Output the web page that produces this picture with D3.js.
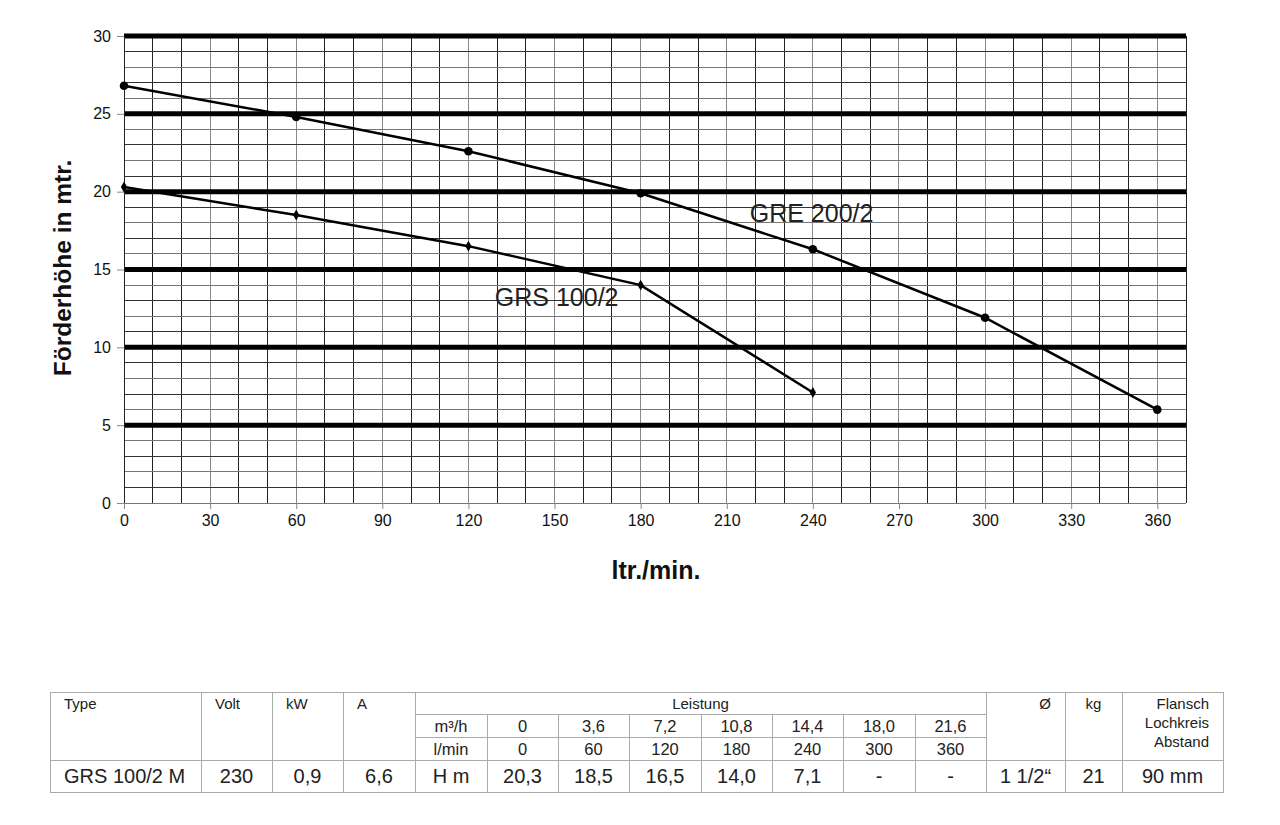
<!DOCTYPE html>
<html>
<head>
<meta charset="utf-8">
<script src="https://cdn.jsdelivr.net/npm/d3@7"></script>
<style>
  body { margin: 0; background: #fff; }
  svg text { font-family: "Liberation Sans", Arial, sans-serif; }
</style>
</head>
<body>
<script>
// pump curves: flow in l/min, head in m
const flowLpm = [0, 60, 120, 180, 240, 300, 360];
const flowM3h = ["0", "3,6", "7,2", "10,8", "14,4", "18,0", "21,6"];
const greHead = [26.8, 24.8, 22.6, 19.9, 16.3, 11.9, 6.0];
const grsHead = [20.3, 18.5, 16.5, 14.0, 7.1];
const xTicks = [0, 30, 60, 90, 120, 150, 180, 210, 240, 270, 300, 330, 360];
const yTicks = [0, 5, 10, 15, 20, 25, 30];

// table specs
const specHeaders = ["Type", "Volt", "kW", "A"];
const specValues = ["GRS 100/2 M", "230", "0,9", "6,6"];
const extraValues = ["1 1/2\u201C", "21", "90 mm"];

const [W, H] = [1280, 825];
const plot = { left: 124, top: 36, right: 1186, bottom: 503 };

const svg = d3.select("body").append("svg")
  .attr("width", W)
  .attr("height", H);

const x = d3.scaleLinear().domain([0, 370]).range([plot.left, plot.right]);
const y = d3.scaleLinear().domain([0, 30]).range([plot.bottom, plot.top]);

// grid: thin lines every 10 l/min and every 1 m
const grid = svg.append("g").attr("shape-rendering", "crispEdges");
grid.selectAll(".vx")
  .data(d3.range(0, 371, 10))
  .enter().append("line")
    .attr("x1", d => x(d)).attr("x2", d => x(d))
    .attr("y1", y(30)).attr("y2", y(0))
    .attr("stroke", (d, i) => i % 3 === 0 ? "#888" : "#222")
    .attr("stroke-width", 1);
grid.selectAll(".hy")
  .data(d3.range(0, 31, 1))
  .enter().append("line")
    .attr("x1", x(0)).attr("x2", x(370))
    .attr("y1", d => y(d)).attr("y2", d => y(d))
    .attr("stroke", (d, i) => i % 2 === 0 ? "#777" : "#333")
    .attr("stroke-width", 1);

// thick lines every 5 m
svg.append("g").selectAll("line")
  .data(yTicks.filter(d => d > 0))
  .enter().append("line")
    .attr("x1", x(0)).attr("x2", x(370))
    .attr("y1", d => y(d)).attr("y2", d => y(d))
    .attr("stroke", "#000")
    .attr("stroke-width", 5);

// axes
const yAxis = svg.append("g")
  .attr("transform", `translate(${plot.left},0)`)
  .call(d3.axisLeft(y).tickValues(yTicks).tickSize(7).tickPadding(6));
const xAxis = svg.append("g")
  .attr("transform", `translate(0,${plot.bottom})`)
  .call(d3.axisBottom(x).tickValues(xTicks).tickSize(6).tickPadding(6));
[yAxis, xAxis].forEach(g => {
  g.select(".domain").attr("stroke", "#222");
  g.selectAll(".tick line").attr("stroke", "#888");
  g.selectAll("text")
    .attr("font-family", "Liberation Sans, Arial, sans-serif")
    .attr("font-size", 16)
    .attr("fill", "#111");
});
xAxis.select(".domain").remove();

// curves
const line = d3.line().x(d => x(d[0])).y(d => y(d[1]));
const gre = greHead.map((h, i) => [flowLpm[i], h]);
const grs = grsHead.map((h, i) => [flowLpm[i], h]);

svg.append("path")
  .datum(gre)
  .attr("d", line)
  .attr("fill", "none")
  .attr("stroke", "#000")
  .attr("stroke-width", 2.5);
svg.append("path")
  .datum(grs)
  .attr("d", line)
  .attr("fill", "none")
  .attr("stroke", "#000")
  .attr("stroke-width", 2.5);

svg.selectAll(".gre-pt")
  .data(gre)
  .enter().append("circle")
    .attr("cx", d => x(d[0]))
    .attr("cy", d => y(d[1]))
    .attr("r", 4.3)
    .attr("fill", "#000");
svg.selectAll(".grs-pt")
  .data(grs)
  .enter().append("path")
    .attr("transform", d => `translate(${x(d[0])},${y(d[1])})`)
    .attr("d", d3.symbol(d3.symbolDiamond, 34))
    .attr("fill", "#000");

// curve labels
svg.append("text")
  .attr("x", x(218)).attr("y", y(18.05))
  .attr("font-size", 25).attr("fill", "#222")
  .text("GRE 200/2");
svg.append("text")
  .attr("x", x(129.2)).attr("y", y(12.65))
  .attr("font-size", 25).attr("fill", "#222")
  .text("GRS 100/2");

// axis titles
svg.append("text")
  .attr("transform", "translate(71,268) rotate(-90)")
  .attr("text-anchor", "middle")
  .attr("font-size", 24.5).attr("font-weight", "bold").attr("fill", "#111")
  .text("Förderhöhe in mtr.");
svg.append("text")
  .attr("x", 656).attr("y", 579)
  .attr("text-anchor", "middle")
  .attr("font-size", 25).attr("font-weight", "bold").attr("fill", "#111")
  .text("ltr./min.");

// ---- table ----
const cols = [50, 201, 272, 343, 415, 487, 558, 629, 701, 772, 843, 915, 986, 1065, 1122, 1223];
const rows = [692, 714, 737, 760, 792];
const tbl = svg.append("g").attr("shape-rendering", "crispEdges");
const border = "#aaa";

tbl.append("rect")
  .attr("x", cols[0]).attr("y", rows[0])
  .attr("width", cols[15] - cols[0]).attr("height", rows[4] - rows[0])
  .attr("fill", "none").attr("stroke", border);

// full height column lines
tbl.selectAll(".vfull")
  .data([1, 2, 3, 4, 12, 13, 14])
  .enter().append("line")
    .attr("x1", i => cols[i]).attr("x2", i => cols[i])
    .attr("y1", rows[0]).attr("y2", rows[4])
    .attr("stroke", border);
// inner columns under "Leistung"
tbl.selectAll(".vpart")
  .data(d3.range(5, 12))
  .enter().append("line")
    .attr("x1", i => cols[i]).attr("x2", i => cols[i])
    .attr("y1", rows[1]).attr("y2", rows[4])
    .attr("stroke", border);
tbl.selectAll(".hpart")
  .data([1, 2])
  .enter().append("line")
    .attr("x1", cols[4]).attr("x2", cols[12])
    .attr("y1", i => rows[i]).attr("y2", i => rows[i])
    .attr("stroke", border);
tbl.append("line")
  .attr("x1", cols[0]).attr("x2", cols[15])
  .attr("y1", rows[3]).attr("y2", rows[3])
  .attr("stroke", border);

const mid = i => (cols[i] + cols[i + 1]) / 2;
const txt = (tx, ty, s, size, anchor) => svg.append("text")
  .attr("x", tx).attr("y", ty)
  .attr("font-size", size)
  .attr("text-anchor", anchor || "middle")
  .attr("fill", "#222")
  .text(s);

// header
specHeaders.forEach((s, i) => txt(cols[i] + 14, 709, s, 15, "start"));
txt((cols[4] + cols[12]) / 2, 709, "Leistung", 15);
txt(cols[13] - 14, 709, "Ø", 15, "end");
txt(mid(13), 709, "kg", 15);
["Flansch", "Lochkreis", "Abstand"].forEach((s, i) =>
  txt(cols[15] - 14, 709 + i * 19, s, 15, "end"));

// flow rows
txt(mid(4), 732, "m³/h", 16.5);
txt(mid(4), 755, "l/min", 16.5);
flowM3h.forEach((s, i) => txt(mid(5 + i), 732, s, 16.5));
flowLpm.forEach((v, i) => txt(mid(5 + i), 755, v, 16.5));

// data row
txt(cols[0] + 14, 783, specValues[0], 20, "start");
specValues.slice(1).forEach((s, i) => txt(mid(1 + i), 783, s, 20));
txt(mid(4), 783, "H m", 20);
flowLpm.forEach((v, i) => txt(mid(5 + i), 783,
  i < grsHead.length ? d3.format(".1f")(grsHead[i]).replace(".", ",") : "-", 20));
extraValues.forEach((s, i) => txt(mid(12 + i), 783, s, 20));
</script>
</body>
</html>
